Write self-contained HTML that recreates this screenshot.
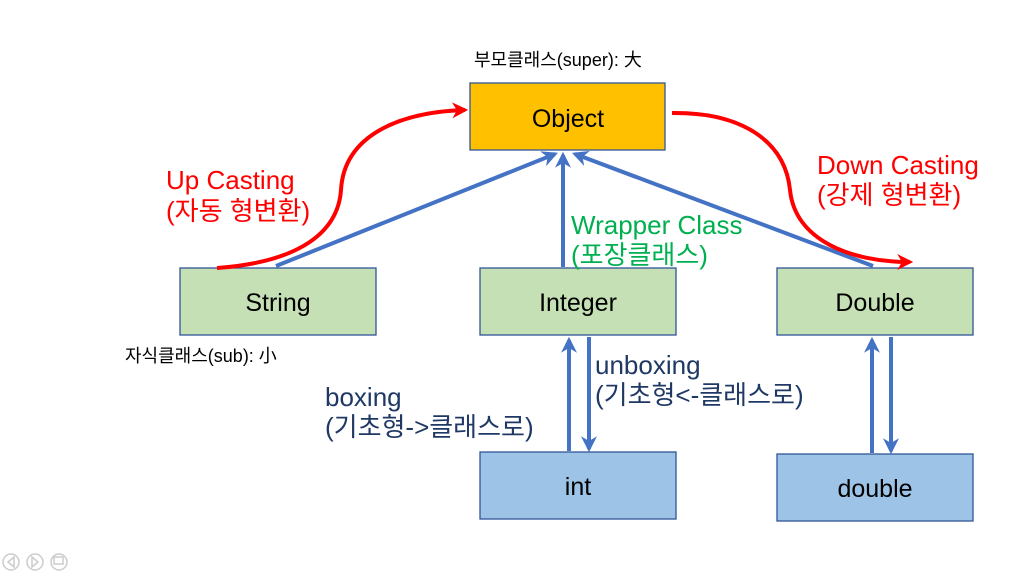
<!DOCTYPE html>
<html><head><meta charset="utf-8"><style>
body{margin:0;background:#fff;}
svg{display:block;font-family:"Liberation Sans","Noto Sans CJK KR",sans-serif;}
</style></head><body>
<svg width="1024" height="576" viewBox="0 0 1024 576">
<defs>
<marker id="bh" viewBox="0 0 10 10" refX="8" refY="5" markerWidth="4" markerHeight="4" orient="auto"><path d="M0,0 L10,5 L0,10 L3,5z" fill="#4472C4"/></marker>
<marker id="rh" viewBox="0 0 10 10" refX="8" refY="5" markerWidth="4" markerHeight="4" orient="auto"><path d="M0,0 L10,5 L0,10 L3,5z" fill="#FF0000"/></marker>
</defs>
<rect x="470" y="83" width="195" height="67" fill="#FFC000" stroke="#2F5597" stroke-width="1.3"/>
<rect x="180" y="268" width="196" height="67" fill="#C5E0B4" stroke="#2F5597" stroke-width="1.3"/>
<rect x="480" y="268" width="196" height="67" fill="#C5E0B4" stroke="#2F5597" stroke-width="1.3"/>
<rect x="777" y="268" width="196" height="67" fill="#C5E0B4" stroke="#2F5597" stroke-width="1.3"/>
<rect x="480" y="452" width="196" height="67" fill="#9DC3E6" stroke="#2F5597" stroke-width="1.3"/>
<rect x="777" y="454" width="196" height="67" fill="#9DC3E6" stroke="#2F5597" stroke-width="1.3"/>
<g stroke="#4472C4" stroke-width="4" fill="none">
<line x1="276" y1="266" x2="555" y2="154" marker-end="url(#bh)"/>
<line x1="563" y1="267" x2="563" y2="155" marker-end="url(#bh)"/>
<line x1="873" y1="266" x2="575" y2="154" marker-end="url(#bh)"/>
<line x1="569" y1="451" x2="569" y2="340" marker-end="url(#bh)"/>
<line x1="589" y1="337" x2="589" y2="449" marker-end="url(#bh)"/>
<line x1="872" y1="453" x2="872" y2="340" marker-end="url(#bh)"/>
<line x1="891" y1="337" x2="891" y2="451" marker-end="url(#bh)"/>
</g>
<g stroke="#FF0000" stroke-width="4" fill="none">
<path d="M217,268 C300,262 338,232 341,190 C344,135 400,112 465,110" marker-end="url(#rh)"/>
<path d="M672,113 C740,112 785,140 790,190 C795,240 850,262 910,262" marker-end="url(#rh)"/>
</g>
<g font-size="25" text-anchor="middle" fill="#000">
<text x="568" y="127">Object</text>
<text x="278" y="311">String</text>
<text x="578" y="311">Integer</text>
<text x="875" y="311">Double</text>
<text x="578" y="495">int</text>
<text x="875" y="497">double</text>
</g>
<text x="474" y="66" font-size="18">부모클래스(super): 大</text>
<text x="125" y="362" font-size="18">자식클래스(sub): 小</text>
<g font-size="26" fill="#FF0000">
<text x="166" y="189">Up Casting</text>
<text x="166" y="220">(자동 형변환)</text>
<text x="817" y="174">Down Casting</text>
<text x="817" y="204">(강제 형변환)</text>
</g>
<g font-size="26" fill="#00B050">
<text x="571" y="234">Wrapper Class</text>
<text x="571" y="264">(포장클래스)</text>
</g>
<g font-size="26" fill="#1F3864">
<text x="595" y="374">unboxing</text>
<text x="595" y="404">(기초형&lt;-클래스로)</text>
<text x="325" y="406">boxing</text>
<text x="325" y="436">(기초형-&gt;클래스로)</text>
</g>
<g stroke="#ccc" stroke-width="1.5" fill="none">
<circle cx="11" cy="562" r="8"/><circle cx="35" cy="562" r="8"/><circle cx="59" cy="562" r="8"/>
<path d="M14,557 L8,562 L14,567z M32,557 L38,562 L32,567z"/>
<rect x="54" y="557" width="9" height="7"/>
</g>
</svg>
</body></html>
